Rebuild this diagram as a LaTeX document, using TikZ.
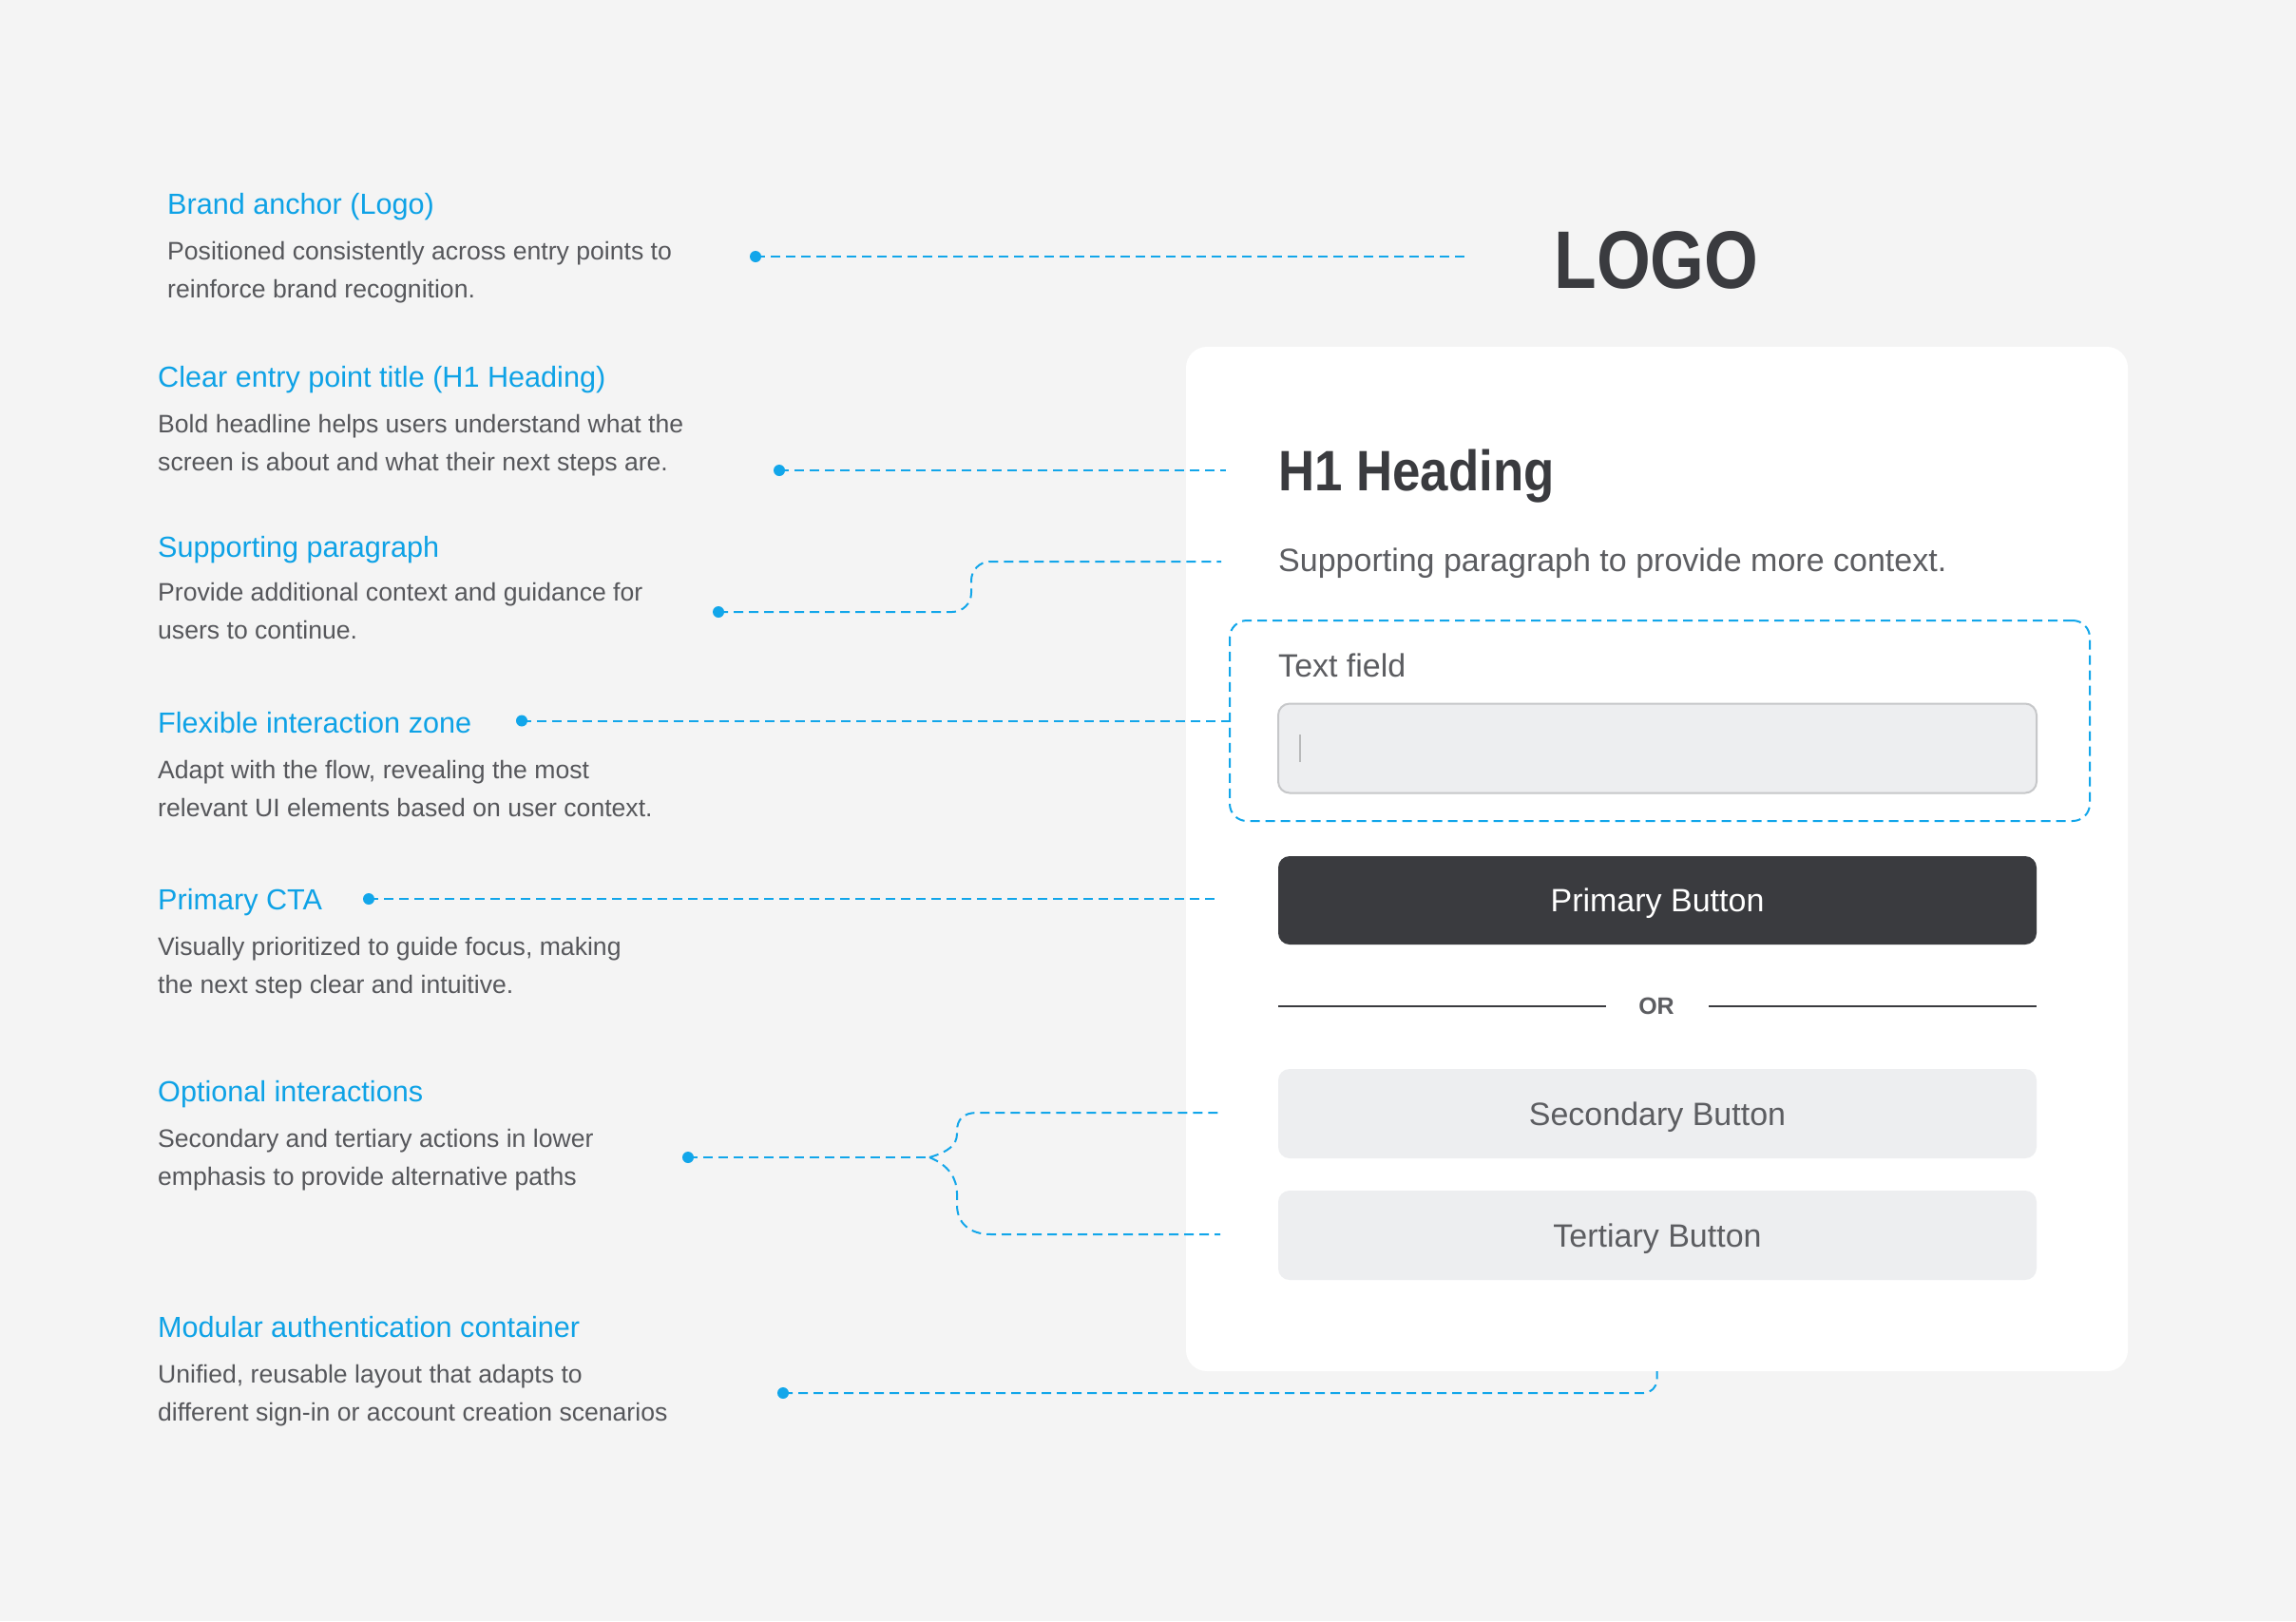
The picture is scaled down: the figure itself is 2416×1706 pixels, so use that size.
\documentclass[tikz,border=0pt]{standalone}
\usepackage{fontspec}
\setmainfont{Liberation Sans}
\definecolor{bg}{HTML}{F4F4F4}
\definecolor{annblue}{HTML}{0EA2E6}
\definecolor{lineblue}{HTML}{12A6EA}
\definecolor{descgray}{HTML}{56575B}
\definecolor{cardgray}{HTML}{5C5D61}
\definecolor{darkbtn}{HTML}{3A3B3F}
\definecolor{lightbtn}{HTML}{EDEEF0}
\definecolor{fieldborder}{HTML}{C6C7C9}
\tikzset{
  ann/.style={anchor=base west, inner sep=0pt, text=annblue, font=\fontsize{30.6}{37}\selectfont},
  desc/.style={anchor=base west, inner sep=0pt, text=descgray, font=\fontsize{26.6}{40}\selectfont},
  cardtxt/.style={anchor=base west, inner sep=0pt, text=cardgray, font=\fontsize{34}{40}\selectfont},
  conn/.style={draw=lineblue, line width=2pt, dash pattern=on 10pt off 6pt},
  dotm/.style={circle, fill=lineblue, inner sep=0pt, minimum size=12pt},
  btn/.style={rounded corners=12pt, minimum width=798pt, minimum height=94pt, inner sep=0pt, text height=24pt, text depth=0pt, font=\fontsize{34}{40}\selectfont},
}
\begin{document}
\begin{tikzpicture}[x=1pt,y=-1pt]
\path[fill=bg] (0,0) rectangle (2416,1706);
\useasboundingbox (0,0) rectangle (2416,1706);

% card
\node[fill=white, rounded corners=22pt, minimum width=991pt, minimum height=1078pt, inner sep=0pt] (card) at (1743.5,904) {};

% logo
\node[anchor=base, inner sep=0pt, text=darkbtn, font=\fontsize{86}{90}\bfseries] (logo) at (1743,303) {\scalebox{0.85}[1]{LOGO}};

% card contents
\node[anchor=base west, inner sep=0pt, text=darkbtn, font=\fontsize{60}{64}\bfseries] (h1) at (1345,516) {\scalebox{0.88}[1]{H1 Heading}};
\node[cardtxt] (para) at (1345,601) {Supporting paragraph to provide more context.};
\node[conn, rounded corners=18pt, minimum width=905pt, minimum height=211pt, inner sep=0pt] (zone) at (1746.5,758.5) {};
\node[cardtxt] (tflabel) at (1345,712) {Text field};
\node[btn, fill=lightbtn, draw=fieldborder, line width=2pt] (field) at (1744,787.5) {};
\coordinate (cur1) at (1368,773);
\coordinate (cur2) at (1368,802);
\draw[draw=fieldborder!80!gray, line width=1.5pt] (cur1) -- (cur2);
\node[btn, fill=darkbtn, text=white, minimum height=93pt] (primary) at (1744,947.5) {Primary Button};
\node[inner sep=0pt, text=cardgray, font=\fontsize{25}{30}\bfseries] (or) at (1743,1059) {OR};
\coordinate (orl1) at (1345,1059);
\coordinate (orl2) at (1690,1059);
\coordinate (orr1) at (1798,1059);
\coordinate (orr2) at (2143,1059);
\draw[darkbtn, line width=2pt] (orl1) -- (orl2);
\draw[darkbtn, line width=2pt] (orr1) -- (orr2);
\node[btn, fill=lightbtn, text=cardgray] (secondary) at (1744,1172) {Secondary Button};
\node[btn, fill=lightbtn, text=cardgray] (tertiary) at (1744,1300) {Tertiary Button};

% annotations
\node[ann] (a1) at (176,225) {Brand anchor (Logo)};
\node[desc] (d1a) at (176,273) {Positioned consistently across entry points to};
\node[desc] (d1b) at (176,313) {reinforce brand recognition.};

\node[ann] (a2) at (166,407) {Clear entry point title (H1 Heading)};
\node[desc] (d2a) at (166,455) {Bold headline helps users understand what the};
\node[desc] (d2b) at (166,495) {screen is about and what their next steps are.};

\node[ann] (a3) at (166,586) {Supporting paragraph};
\node[desc] (d3a) at (166,632) {Provide additional context and guidance for};
\node[desc] (d3b) at (166,672) {users to continue.};

\node[ann] (a4) at (166,771) {Flexible interaction zone};
\node[desc] (d4a) at (166,819) {Adapt with the flow, revealing the most};
\node[desc] (d4b) at (166,859) {relevant UI elements based on user context.};

\node[ann] (a5) at (166,957) {Primary CTA};
\node[desc] (d5a) at (166,1005) {Visually prioritized to guide focus, making};
\node[desc] (d5b) at (166,1045) {the next step clear and intuitive.};

\node[ann] (a6) at (166,1159) {Optional interactions};
\node[desc] (d6a) at (166,1207) {Secondary and tertiary actions in lower};
\node[desc] (d6b) at (166,1247) {emphasis to provide alternative paths};

\node[ann] (a7) at (166,1407) {Modular authentication container};
\node[desc] (d7a) at (166,1455) {Unified, reusable layout that adapts to};
\node[desc] (d7b) at (166,1495) {different sign-in or account creation scenarios};

% dots
\node[dotm] (p1) at (795,270) {};
\node[dotm] (p2) at (820,495) {};
\node[dotm] (p3) at (756,644) {};
\node[dotm] (p4) at (549,758.5) {};
\node[dotm] (p5) at (388,946) {};
\node[dotm] (p6) at (724,1218) {};
\node[dotm] (p7) at (824,1466) {};

% connector ends
\coordinate (e1) at (1545,270);
\coordinate (e2) at (1290,495);
\coordinate (e3) at (1285,591);
\coordinate (e5) at (1283,946);
\coordinate (e6a) at (1284,1171);
\coordinate (e6b) at (1284,1299);
\coordinate (j6) at (978,1218);

% connectors
\draw[conn] (p1.center) -- (e1);
\draw[conn] (p2.center) -- (e2);
\draw[conn, rounded corners=20pt] (p3.center) -- (1022,644) -- (1022,591) -- (e3);
\draw[conn] (p4.center) -- (zone.west);
\draw[conn] (p5.center) -- (e5);
\draw[conn] (p6.center) -- (j6);
\draw[conn] (j6) .. controls (998,1212) and (1007,1205) .. (1007,1193) -- (1007,1190) .. controls (1007,1178) and (1014,1171) .. (1028,1171) -- (e6a);
\draw[conn] (j6) .. controls (998,1226) and (1007,1240) .. (1007,1256) -- (1007,1268) .. controls (1007,1287) and (1020,1299) .. (1043,1299) -- (e6b);
\draw[conn, rounded corners=14pt] (p7.center) -- (card.south |- p7.center) -- (card.south);
\end{tikzpicture}
\end{document}
